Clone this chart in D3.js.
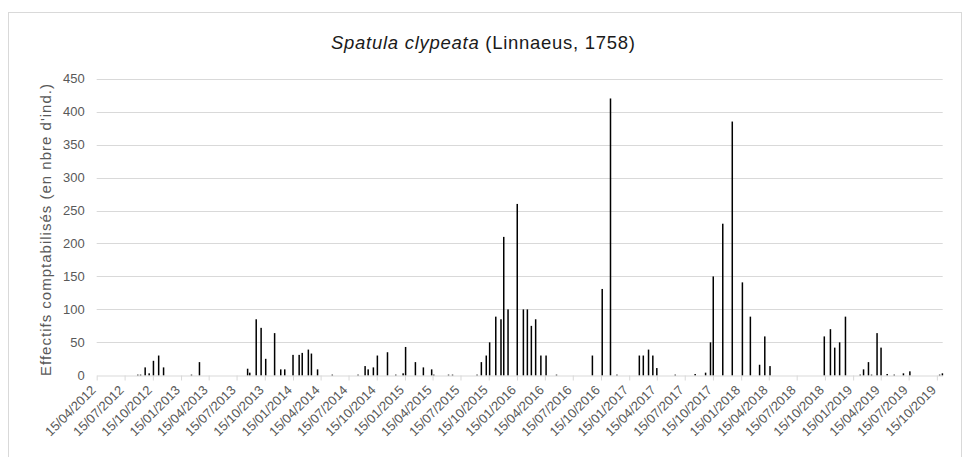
<!DOCTYPE html>
<html>
<head>
<meta charset="utf-8">
<script src="https://cdn.jsdelivr.net/npm/d3@7/dist/d3.min.js"></script>
<style>
  html, body { margin: 0; padding: 0; background: #fff; }
  svg { display: block; font-family: "Liberation Sans", Arial, sans-serif; }
</style>
</head>
<body>
<svg id="chart" width="971" height="457"></svg>
<script>
// ---- DATA ----
const dates = [
  "2012-08-27","2012-09-05","2012-09-20","2012-10-03","2012-10-17","2012-11-03","2012-11-19",
  "2013-02-18","2013-03-16",
  "2013-08-20","2013-08-27","2013-09-17","2013-10-03","2013-10-18","2013-11-16","2013-12-06","2013-12-19",
  "2014-01-15","2014-02-04","2014-02-14","2014-03-06","2014-03-16","2014-04-05","2014-05-23",
  "2014-08-15","2014-09-07","2014-09-17","2014-10-04","2014-10-17","2014-11-19","2014-12-16",
  "2015-01-09","2015-01-17","2015-02-18","2015-03-16","2015-04-12","2015-04-19","2015-06-06","2015-06-19",
  "2015-09-07","2015-09-21","2015-10-07","2015-10-18","2015-11-07","2015-11-24","2015-12-03","2015-12-17",
  "2016-01-16","2016-02-05","2016-02-18","2016-03-02","2016-03-16","2016-04-02","2016-04-19","2016-05-23",
  "2016-09-17","2016-10-19","2016-11-15","2016-12-06",
  "2017-02-17","2017-03-02","2017-03-19","2017-04-02","2017-04-15","2017-06-14",
  "2017-08-18","2017-09-21","2017-10-07","2017-10-16","2017-11-16","2017-12-17",
  "2018-01-19","2018-02-14","2018-03-16","2018-04-02","2018-04-19",
  "2018-10-13","2018-11-02","2018-11-16","2018-12-02","2018-12-21",
  "2019-02-07","2019-02-18","2019-03-06","2019-03-16","2019-04-03","2019-04-16","2019-05-06","2019-05-29",
  "2019-06-28","2019-07-19","2019-10-24","2019-11-02"
];
const counts = [
  1,1,12,3,22,30,12,
  1,20,
  10,4,85,72,25,64,9,9,
  31,31,34,39,33,9,1,
  1,14,9,12,30,35,1,
  3,43,20,12,9,1,1,1,
  1,20,30,50,89,85,210,100,
  260,100,100,75,85,30,30,1,
  30,131,420,1,
  30,30,39,30,11,1,
  2,4,50,150,230,385,
  141,89,16,59,14,
  59,70,42,50,89,
  1,9,20,1,64,42,2,1,
  3,6,1,3
];
const xTickLabels = [
  "15/04/2012","15/07/2012","15/10/2012",
  "15/01/2013","15/04/2013","15/07/2013","15/10/2013",
  "15/01/2014","15/04/2014","15/07/2014","15/10/2014",
  "15/01/2015","15/04/2015","15/07/2015","15/10/2015",
  "15/01/2016","15/04/2016","15/07/2016","15/10/2016",
  "15/01/2017","15/04/2017","15/07/2017","15/10/2017",
  "15/01/2018","15/04/2018","15/07/2018","15/10/2018",
  "15/01/2019","15/04/2019","15/07/2019","15/10/2019"
];
const yTicks = [0,50,100,150,200,250,300,350,400,450];
const xDomain = ["2012-04-15","2019-11-03"];
const titleItalic = "Spatula clypeata";
const titleRest = " (Linnaeus, 1758)";
const yTitle = "Effectifs comptabilisés (en nbre d'ind.)";

// ---- LAYOUT ----
const svg = d3.select("#chart");
const plotL = 96.7, plotR = 942.7, plotT = 78.7, plotB = 375.3;

const parseIso = d3.utcParse("%Y-%m-%d");
const parseFr = d3.utcParse("%d/%m/%Y");

const x = d3.scaleUtc().domain(xDomain.map(parseIso)).range([plotL, plotR]);
const y = d3.scaleLinear().domain([0, 450]).range([plotB, plotT]);

// outer border
svg.append("rect")
  .attr("x", 8.5).attr("y", 12.5)
  .attr("width", 953).attr("height", 470)
  .attr("fill", "#fff").attr("stroke", "#d9d9d9").attr("stroke-width", 1);

// title
const title = svg.append("text")
  .attr("x", 483).attr("y", 49)
  .attr("text-anchor", "middle")
  .attr("font-size", 18.5).attr("fill", "#1a1a1a")
  .attr("textLength", 304).attr("lengthAdjust", "spacing");
title.append("tspan").attr("font-style", "italic").text(titleItalic);
title.append("tspan").text(titleRest);

// gridlines
svg.append("g").selectAll("line")
  .data(yTicks.filter(d => d > 0))
  .join("line")
  .attr("x1", plotL).attr("x2", plotR)
  .attr("y1", d => Math.round(y(d)) + 0.5).attr("y2", d => Math.round(y(d)) + 0.5)
  .attr("stroke", "#d9d9d9").attr("stroke-width", 1);

// y axis labels
const yAxis = d3.axisLeft(y).tickValues(yTicks).tickSize(0).tickPadding(12);
const gy = svg.append("g").attr("transform", `translate(${plotL},0)`).call(yAxis);
gy.select(".domain").remove();
gy.selectAll("text").attr("font-size", 13).attr("fill", "#595959")
  .attr("font-family", "'Liberation Sans', Arial, sans-serif");

// x axis
const xTickDates = xTickLabels.map(parseFr);
const xAxis = d3.axisBottom(x).tickValues(xTickDates)
  .tickFormat(d3.utcFormat("%d/%m/%Y")).tickSize(5).tickSizeOuter(0);
const gx = svg.append("g").attr("transform", `translate(0,${Math.round(plotB) + 0.5})`).call(xAxis);
gx.select(".domain").attr("stroke", "#d9d9d9");
gx.selectAll(".tick line").attr("stroke", "#d9d9d9");
gx.selectAll("text")
  .attr("font-size", 13).attr("fill", "#595959")
  .attr("font-family", "'Liberation Sans', Arial, sans-serif")
  .attr("text-anchor", "end")
  .attr("dy", null)
  .attr("y", 0)
  .attr("transform", "translate(-3,13) rotate(-45)")
  .attr("dominant-baseline", "middle");

// bars
svg.append("g").selectAll("rect")
  .data(dates.map((d, i) => ({ date: parseIso(d), v: counts[i] })))
  .join("rect")
  .attr("x", d => x(d.date) - 0.75)
  .attr("width", 1.5)
  .attr("y", d => y(d.v))
  .attr("height", d => y(0) - y(d.v))
  .attr("fill", "#000");

// y title
svg.append("text")
  .attr("transform", `translate(51,${(plotT + plotB) / 2 + 3}) rotate(-90)`)
  .attr("text-anchor", "middle")
  .attr("font-size", 15).attr("fill", "#595959")
  .attr("textLength", 292).attr("lengthAdjust", "spacing")
  .text(yTitle);
</script>
</body>
</html>
